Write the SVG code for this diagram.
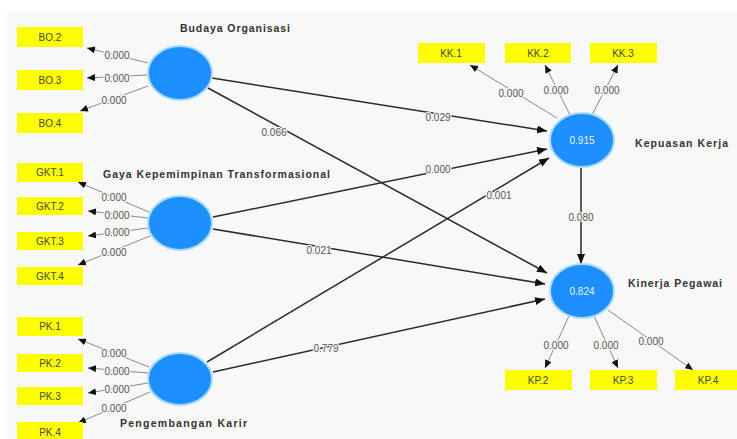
<svg xmlns="http://www.w3.org/2000/svg" width="737" height="439" viewBox="0 0 737 439">
<defs>
<style>
.bg{fill:#f8f8f8}
.lv{fill:#1e8fff;stroke:#a8dcff;stroke-width:2}
.ind{fill:#ffff00}
.it{font-family:"Liberation Sans",Arial,sans-serif;font-size:10px;fill:#4a4a3a;text-anchor:middle}
.cl{font-family:"Liberation Sans",Arial,sans-serif;font-size:10.5px;font-weight:bold;fill:#333}
.val{font-family:"Liberation Sans",Arial,sans-serif;font-size:10px;fill:#e8f4ff;text-anchor:middle}
.num{font-family:"Liberation Sans",Arial,sans-serif;font-size:10px;fill:#555;text-anchor:middle;stroke:#f8f8f8;stroke-width:2.5;paint-order:stroke}
.inner{stroke:#2a2a2a;stroke-width:1.5;fill:none;marker-end:url(#ah)}
.outer{stroke:#8a8a8a;stroke-width:1;fill:none;marker-end:url(#ah2)}
</style>
<marker id="ah" markerUnits="userSpaceOnUse" markerWidth="10" markerHeight="8" refX="10" refY="4" orient="auto">
<path d="M0,0 L10,4 L0,8 z" fill="#111"/>
</marker>
<marker id="ah2" markerUnits="userSpaceOnUse" markerWidth="8" markerHeight="7" refX="8" refY="3.5" orient="auto">
<path d="M0,0 L8,3.5 L0,7 z" fill="#111"/>
</marker>
</defs>
<rect width="737" height="439" fill="#ffffff"/>
<rect class="bg" x="7" y="12" width="730" height="427"/>

<g id="connectors">
<path class="inner" d="M212,78 L547,131"/>
<path class="inner" d="M208,88 L547,273"/>
<path class="inner" d="M213,217 L547,149"/>
<path class="inner" d="M213,229 L545,284"/>
<path class="inner" d="M207,362 L549,158"/>
<path class="inner" d="M213,372 L545,299"/>
<path class="inner" d="M581,167 L581,264"/>
<text class="num" x="438" y="121">0.029</text>
<text class="num" x="274" y="136">0.066</text>
<text class="num" x="438" y="173">0.000</text>
<text class="num" x="319" y="254">0.021</text>
<text class="num" x="499" y="199">0.001</text>
<text class="num" x="326" y="352">0.779</text>
<text class="num" x="581" y="221">0.080</text>

<path class="outer" d="M148,63 L87,48"/>
<path class="outer" d="M147,75 L87,78"/>
<path class="outer" d="M148,86 L80,111"/>
<path class="outer" d="M149,212 L78,182"/>
<path class="outer" d="M148,218 L88,211"/>
<path class="outer" d="M148,228 L88,236"/>
<path class="outer" d="M150,236 L78,265"/>
<path class="outer" d="M149,367 L78,339"/>
<path class="outer" d="M148,373 L88,368"/>
<path class="outer" d="M148,383 L88,393"/>
<path class="outer" d="M150,392 L78,423"/>
<path class="outer" d="M557,118 L470,65"/>
<path class="outer" d="M570,115 L545,65"/>
<path class="outer" d="M592,115 L618,65"/>
<path class="outer" d="M569,316 L545,368"/>
<path class="outer" d="M594,316 L618,368"/>
<path class="outer" d="M608,310 L693,370"/>
<text class="num" x="117" y="59">0.000</text>
<text class="num" x="117" y="82">0.000</text>
<text class="num" x="114" y="104">0.000</text>
<text class="num" x="114" y="201">0.000</text>
<text class="num" x="117" y="219">0.000</text>
<text class="num" x="117" y="236">0.000</text>
<text class="num" x="114" y="256">0.000</text>
<text class="num" x="114" y="357">0.000</text>
<text class="num" x="117" y="375">0.000</text>
<text class="num" x="117" y="393">0.000</text>
<text class="num" x="114" y="412">0.000</text>
<text class="num" x="511" y="97">0.000</text>
<text class="num" x="556" y="94">0.000</text>
<text class="num" x="607" y="94">0.000</text>
<text class="num" x="556" y="349">0.000</text>
<text class="num" x="606" y="349">0.000</text>
<text class="num" x="651" y="345">0.000</text>
</g>

<g id="BO">
<ellipse class="lv" cx="180" cy="73" rx="32" ry="27"/>
<text class="cl" x="180" y="32" textLength="110">Budaya Organisasi</text>
</g>
<g id="GKT">
<ellipse class="lv" cx="180" cy="223" rx="32" ry="27"/>
<text class="cl" x="103" y="178" textLength="227">Gaya Kepemimpinan Transformasional</text>
</g>
<g id="PK">
<ellipse class="lv" cx="180" cy="379" rx="32" ry="26"/>
<text class="cl" x="120" y="427" textLength="127">Pengembangan Karir</text>
</g>
<g id="KK">
<ellipse class="lv" cx="582" cy="140" rx="32" ry="27"/>
<text class="val" x="582" y="144">0.915</text>
<text class="cl" x="635" y="147" textLength="93">Kepuasan Kerja</text>
</g>
<g id="KP">
<ellipse class="lv" cx="582" cy="291" rx="32" ry="27"/>
<text class="val" x="582" y="295">0.824</text>
<text class="cl" x="628" y="287" textLength="94">Kinerja Pegawai</text>
</g>

<g id="BO2"><rect class="ind" x="17" y="27" width="66" height="20"/><text class="it" x="50" y="41">BO.2</text></g>
<g id="BO3"><rect class="ind" x="17" y="70" width="66" height="20"/><text class="it" x="50" y="84">BO.3</text></g>
<g id="BO4"><rect class="ind" x="17" y="113" width="66" height="20"/><text class="it" x="50" y="127">BO.4</text></g>
<g id="GKT1"><rect class="ind" x="17" y="163" width="66" height="19"/><text class="it" x="50" y="176">GKT.1</text></g>
<g id="GKT2"><rect class="ind" x="17" y="197" width="66" height="18"/><text class="it" x="50" y="210">GKT.2</text></g>
<g id="GKT3"><rect class="ind" x="17" y="232" width="66" height="18"/><text class="it" x="50" y="245">GKT.3</text></g>
<g id="GKT4"><rect class="ind" x="17" y="267" width="66" height="18"/><text class="it" x="50" y="280">GKT.4</text></g>
<g id="PK1"><rect class="ind" x="17" y="317" width="66" height="19"/><text class="it" x="50" y="330">PK.1</text></g>
<g id="PK2"><rect class="ind" x="17" y="354" width="66" height="18"/><text class="it" x="50" y="367">PK.2</text></g>
<g id="PK3"><rect class="ind" x="17" y="387" width="66" height="18"/><text class="it" x="50" y="400">PK.3</text></g>
<g id="PK4"><rect class="ind" x="17" y="422" width="66" height="20"/><text class="it" x="50" y="436">PK.4</text></g>
<g id="KK1"><rect class="ind" x="418" y="43" width="67" height="20"/><text class="it" x="451" y="57">KK.1</text></g>
<g id="KK2"><rect class="ind" x="505" y="43" width="66" height="20"/><text class="it" x="538" y="57">KK.2</text></g>
<g id="KK3"><rect class="ind" x="590" y="43" width="67" height="20"/><text class="it" x="623" y="57">KK.3</text></g>
<g id="KP2"><rect class="ind" x="505" y="370" width="67" height="20"/><text class="it" x="538" y="384">KP.2</text></g>
<g id="KP3"><rect class="ind" x="590" y="370" width="67" height="20"/><text class="it" x="623" y="384">KP.3</text></g>
<g id="KP4"><rect class="ind" x="675" y="370" width="66" height="20"/><text class="it" x="708" y="384">KP.4</text></g>
</svg>
